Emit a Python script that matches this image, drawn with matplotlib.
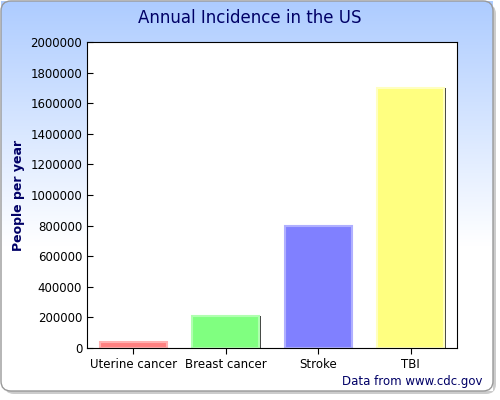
import numpy as np
import matplotlib.pyplot as plt
from matplotlib.patches import FancyBboxPatch

categories = ['Uterine cancer', 'Breast cancer', 'Stroke', 'TBI']
values = [40000, 210000, 795000, 1700000]
colors = ['#ff8080', '#80ff80', '#8080ff', '#ffff80']
edges = ['#ffb0b0', '#b0ffb0', '#b0b0ff', '#ffffc0']

fig = plt.figure(figsize=(5, 4), dpi=100, facecolor='white')

# background with gradient and frame
bg = fig.add_axes([0, 0, 1, 1])
bg.set_xlim(0, 500)
bg.set_ylim(400, 0)
bg.axis('off')
grad = np.linspace(0, 1, 256)
top = np.array([0.68, 0.80, 1.0])
bot = np.array([1.0, 1.0, 1.0])
img = top + (bot - top) * np.clip(grad * 1.6, 0, 1)[:, None]
img = img.reshape(256, 1, 3)
bg.add_patch(FancyBboxPatch((4, 4), 492, 390, boxstyle='round,pad=0,rounding_size=10',
                            fc='#cccccc', ec='none', zorder=0))
bg.imshow(img, extent=(1, 493, 391, 1), aspect='auto', zorder=1)
bg.add_patch(FancyBboxPatch((1, 1), 492, 390, boxstyle='round,pad=0,rounding_size=10',
                            fc='none', ec='#999999', lw=1, zorder=2))
bg.set_xlim(0, 500)
bg.set_ylim(400, 0)

ax = fig.add_axes([0.174, 0.13, 0.74, 0.765])
x = np.arange(len(categories))
ax.bar(x + 0.02, values, width=0.72, color='#444444', zorder=1)
ax.bar(x, values, width=0.72, color=colors, edgecolor=edges, linewidth=1.5, zorder=2)
ax.set_xlim(-0.5, 3.5)
ax.set_ylim(0, 2000000)
ax.set_yticks(np.arange(0, 2000001, 200000))
ax.set_yticklabels([str(v) for v in range(0, 2000001, 200000)], fontsize=8.5)
ax.set_xticks(x)
ax.set_xticklabels(categories, fontsize=8.5)
ax.tick_params(direction='in', length=4)
ax.tick_params(axis='x', direction='out', length=4)
ax.set_ylabel('People per year', fontsize=9, fontweight='bold', color='#000066')
for s in ax.spines.values():
    s.set_color('black')

fig.text(0.5, 0.955, 'Annual Incidence in the US', ha='center', va='center',
         fontsize=12, color='#000066')
fig.text(0.966, 0.045, 'Data from www.cdc.gov', ha='right', va='center',
         fontsize=8.5, color='#000066')

fig.savefig('out.png')
